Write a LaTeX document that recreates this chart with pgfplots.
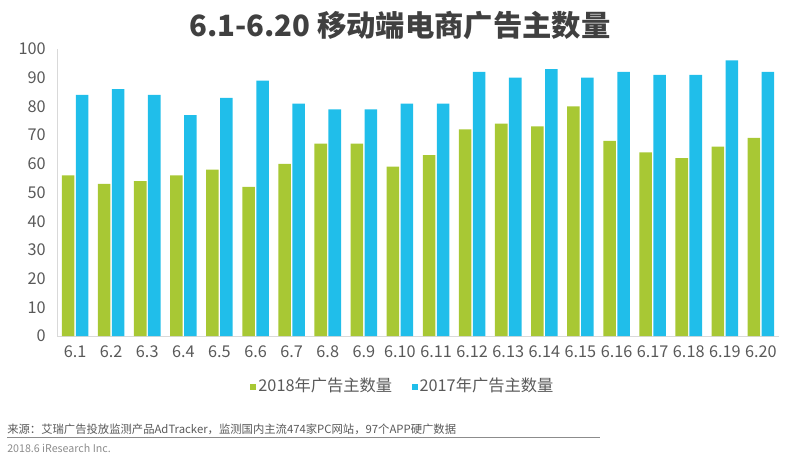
\documentclass[border=0pt]{standalone}
\usepackage{fontspec}
\setmainfont{Noto Sans CJK SC}
\usepackage{pgfplots}
\pgfplotsset{compat=1.18}
\definecolor{g18}{RGB}{168,200,52}
\definecolor{b17}{RGB}{32,190,234}
\definecolor{txt}{RGB}{89,89,89}
\definecolor{ttl}{RGB}{64,64,64}
\begin{document}
\begin{tikzpicture}
% 1px = 0.75pt, page 800x462 px
\path[use as bounding box] (0,0) rectangle (600pt,346.5pt);
\node[font=\bfseries\fontsize{22}{24}\selectfont, text=ttl] at (300pt,327.5pt) {6.1-6.20 移动端电商广告主数量};
\begin{axis}[
  at={(42.75pt,94.5pt)}, anchor=south west,
  scale only axis, width=541.5pt, height=215.25pt,
  ybar=1.1pt, bar width=9.4pt,
  xmin=-0.5, xmax=19.5, ymin=0, ymax=100,
  enlargelimits=false,
  axis x line*=bottom, axis y line*=left,
  axis line style={draw=black!15, -},
  major tick length=0,
  ytick={0,10,...,100},
  xtick=data,
  xticklabels={6.1,6.2,6.3,6.4,6.5,6.6,6.7,6.8,6.9,6.10,6.11,6.12,6.13,6.14,6.15,6.16,6.17,6.18,6.19,6.20},
  /pgf/number format/assume math mode=true,
  tick label style={font=\fontsize{12.2}{14}\selectfont, text=txt},
  xticklabel style={yshift=-4pt},
  yticklabel style={xshift=-5pt},
  legend columns=2,
  legend style={draw=none, fill=none, at={(0.479,-0.174)}, anchor=center,
    font=\fontsize{12.2}{14}\selectfont, text=txt,
    /tikz/every even column/.append style={column sep=13pt},
    nodes={inner sep=1.5pt}},
  legend image code/.code={\fill[#1, draw=none] (0pt,-3.2pt) rectangle (4.6pt,1.4pt);},
]
\addplot[fill=g18, draw=none] coordinates {
(0,56) (1,53) (2,54) (3,56) (4,58) (5,52) (6,60) (7,67) (8,67) (9,59)
(10,63) (11,72) (12,74) (13,73) (14,80) (15,68) (16,64) (17,62) (18,66) (19,69)};
\addplot[fill=b17, draw=none] coordinates {
(0,84) (1,86) (2,84) (3,77) (4,83) (5,89) (6,81) (7,79) (8,79) (9,81)
(10,81) (11,92) (12,90) (13,93) (14,90) (15,92) (16,91) (17,91) (18,96) (19,92)};
\legend{2018年广告主数量, 2017年广告主数量}
\end{axis}
\node[anchor=west, font=\fontsize{8.5}{10}\selectfont, text=txt, inner sep=0pt] at (5.25pt,24.75pt) {来源：艾瑞广告投放监测产品AdTracker，监测国内主流474家PC网站，97个APP硬广数据};
\draw[black!45, line width=0.6pt] (5.25pt,18.75pt) -- (450pt,18.75pt);
\node[anchor=west, font=\fontsize{8}{9}\selectfont, text=black!45, inner sep=0pt] at (5.25pt,10.5pt) {2018.6 iResearch Inc.};
\end{tikzpicture}
\end{document}
